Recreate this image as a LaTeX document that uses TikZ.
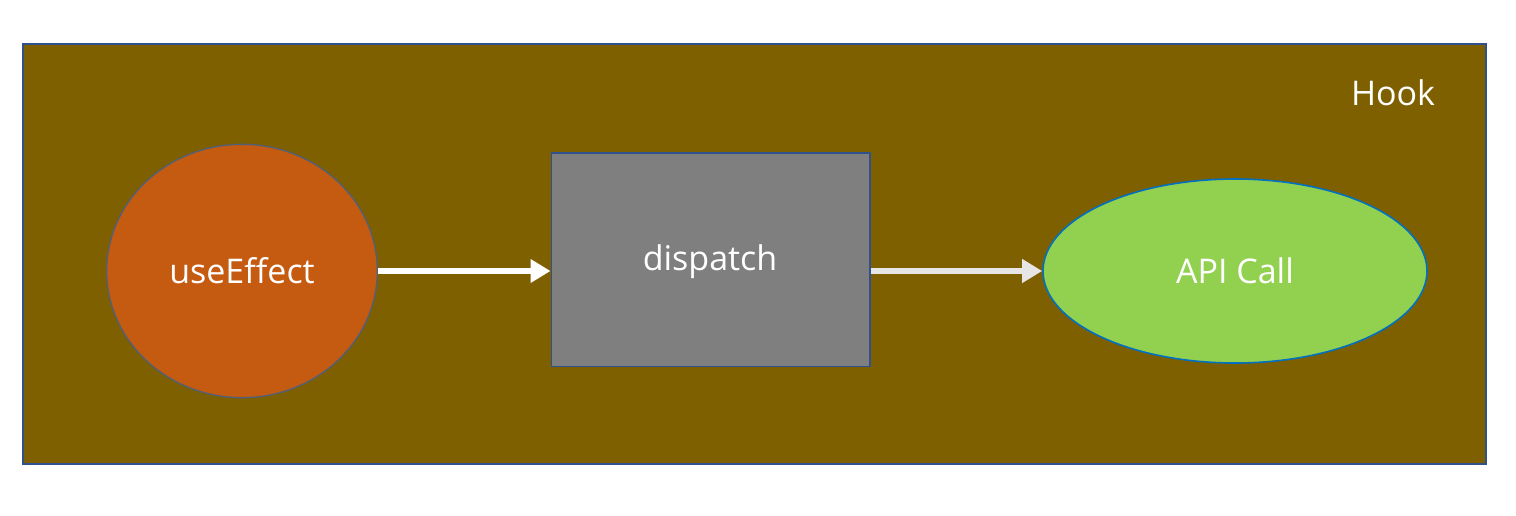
\documentclass[tikz,border=0pt]{standalone}
\usepackage{fontspec}
\setmainfont{Open Sans}
\usetikzlibrary{arrows.meta,shapes.geometric}
\definecolor{hookbg}{HTML}{7F6000}
\definecolor{hookline}{HTML}{2F528F}
\definecolor{effectfill}{HTML}{C55A11}
\definecolor{effectline}{HTML}{4F6078}
\definecolor{dispfill}{HTML}{7F7F7F}
\definecolor{apifill}{HTML}{92D050}
\definecolor{apiline}{HTML}{0070C0}
\definecolor{arrowgray}{HTML}{E7E6E6}
\begin{document}
\begin{tikzpicture}[x=0.75pt, y=-0.75pt,
    lbl/.style={text=white, font=\fontsize{25.5}{30}\selectfont},
    flow/.style={line width=4.5pt, -{Triangle[length=15pt,width=17pt]}}]
    \useasboundingbox (0,0) rectangle (1516,515);
    \draw[hookline, fill=hookbg, line width=1pt] (23,44) rectangle (1486,464);
    \node[lbl] (hook) at (1393,93) {Hook};

    % the three parts
    \node[ellipse, draw=effectline, fill=effectfill, line width=1pt, minimum width=203pt, minimum height=190pt, inner sep=0pt, lbl] (effect) at (242,271) {useEffect};
    \node[draw=hookline, fill=dispfill, line width=1pt, minimum width=239pt, minimum height=160pt, inner sep=0pt] (disp) at (710.5,259.5) {};
    \node[lbl] (disptext) at (710,262) {dispatch};
    \node[ellipse, draw=apiline, fill=apifill, line width=1.2pt, minimum width=288pt, minimum height=138pt, inner sep=0pt, lbl] (api) at (1235,271) {API Call};

    % connections
    \draw[flow, white] (effect.east) -- (disp.west |- effect.east);
    \draw[flow, arrowgray] (disp.east |- api.west) -- (api.west);
\end{tikzpicture}
\end{document}
